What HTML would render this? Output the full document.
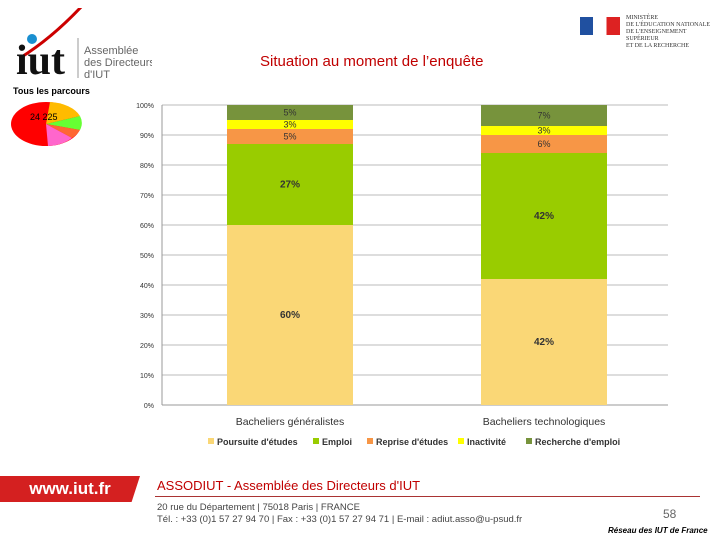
<!DOCTYPE html>
<html><head><meta charset="utf-8"><style>
body{margin:0;width:720px;height:540px;background:#fff;font-family:"Liberation Sans",sans-serif;position:relative;overflow:hidden}
.a{position:absolute}
</style></head><body>
<div class="a" style="left:12px;top:8px;width:140px;height:70px">
<svg width="140" height="70"><path d="M8 50 Q40 30 70 -2" stroke="#c00" stroke-width="3" fill="none"/><circle cx="20" cy="31" r="5" fill="#1a8fd0"/>
<text x="4" y="66" font-family="Liberation Serif" font-size="42" font-weight="bold" fill="#111">iut</text>
<line x1="66" y1="30" x2="66" y2="72" stroke="#999"/>
<text x="72" y="46" font-size="11" fill="#666">Assemblée</text><text x="72" y="58" font-size="11" fill="#666">des Directeurs</text><text x="72" y="70" font-size="11" fill="#666">d'IUT</text></svg></div>
<div class="a" style="left:13px;top:86px;font-size:9px;font-weight:bold">Tous les parcours</div>
<svg class="a" style="left:10px;top:98px" width="72" height="52">
<ellipse cx="36" cy="26" rx="35" ry="22" fill="#f00"/><path d="M36 26 L40 4 A35 22 0 0 1 70 18 Z" fill="#fb0"/><path d="M36 26 L70 18 A35 22 0 0 1 70 32 Z" fill="#6f3"/><path d="M36 26 L70 32 A35 22 0 0 1 62 40 Z" fill="#f63"/><path d="M36 26 L62 40 A35 22 0 0 1 38 48 Z" fill="#f6c"/>
<text x="20" y="22" font-size="9">24 225</text></svg>
<div class="a" style="left:580px;top:15px;width:135px;height:30px">
<div class="a" style="left:0;top:2px;width:40px;height:18px;background:linear-gradient(90deg,#2050a0 33%,#fff 33% 66%,#d22 66%)"></div>
<div class="a" style="left:46px;top:0;font-size:6px;line-height:7px;color:#333;font-family:'Liberation Serif'">MINISTÈRE<br>DE L'ÉDUCATION NATIONALE<br>DE L'ENSEIGNEMENT SUPÉRIEUR<br>ET DE LA RECHERCHE</div></div>
<div class="a" style="left:260px;top:53px;font-size:15px;color:#c00000">Situation au moment de l’enquête</div>
<svg class="a" id="chart" style="left:0;top:0" width="720" height="460"></svg>
<div class="a" style="left:0;top:476px;width:140px;height:26px;background:#d42020;color:#fff;font-weight:bold;font-size:17px;line-height:26px;text-align:center;clip-path:polygon(0 0,100% 0,94% 100%,0 100%)">www.iut.fr</div>
<div class="a" style="left:157px;top:478px;font-size:13px;color:#c00000">ASSODIUT - Assemblée des Directeurs d'IUT</div>
<div class="a" style="left:155px;top:496px;width:545px;height:1px;background:#a33"></div>
<div class="a" style="left:157px;top:502px;font-size:9.5px;color:#444;line-height:12px">20 rue du Département | 75018 Paris | FRANCE<br>Tél. : +33 (0)1 57 27 94 70 | Fax : +33 (0)1 57 27 94 71 | E-mail : adiut.asso@u-psud.fr</div>
<div class="a" style="left:663px;top:507px;font-size:12px;color:#666">58</div>
<div class="a" style="left:608px;top:526px;font-size:8px;font-weight:bold;font-style:italic">Réseau des IUT de France</div>
<script>
const categories=["Bacheliers généralistes","Bacheliers technologiques"];
const seriesNames=["Poursuite d'études","Emploi","Reprise d'études","Inactivité","Recherche d'emploi"];
const poursuite=[60,42];
const emploi=[27,42];
const reprise=[5,6];
const inactivite=[3,3];
const recherche=[5,7];
const ticks=[0,10,20,30,40,50,60,70,80,90,100];
const colors=["#FAD776","#99CC00","#F79646","#FFFF00","#77933C"];
const svg=document.getElementById('chart');const NS="http://www.w3.org/2000/svg";
const y=v=>405-v*3;const bx=i=>227+i*254;const bw=126;
function mk(t,a,txt){const e=document.createElementNS(NS,t);for(const k in a)e.setAttribute(k,a[k]);if(txt!==undefined)e.textContent=txt;svg.appendChild(e);return e;}
ticks.forEach(t=>{const g=mk('line',{x1:162,x2:668,y1:y(t),y2:y(t),stroke:t?'#bbb':'#999','stroke-width':1});


const l=mk('text',{x:154,y:y(t)+3,'text-anchor':'end','font-size':7,fill:'#333'},t+'%');

});
const ax=mk('line',{x1:162,x2:162,y1:105,y2:405,stroke:'#999'});


const series=[poursuite,emploi,reprise,inactivite,recherche];
categories.forEach((c,i)=>{let acc=0;series.forEach((s,j)=>{const v=s[i];
const r=mk('rect',{x:bx(i),y:y(acc+v),width:bw,height:v*3,fill:colors[j]});


const big=v>=10;const t=mk('text',{x:bx(i)+bw/2,y:y(acc+v/2)+3,'text-anchor':'middle','font-size':big?10:9,'font-weight':big?'bold':'normal',fill:'#333'},v+'%');


acc+=v;});
const cl=mk('text',{x:bx(i)+bw/2,y:425,'text-anchor':'middle','font-size':10.5,fill:'#333'},c);

});
let lx=[208,313,367,458,526];
seriesNames.forEach((n,j)=>{const r=mk('rect',{x:lx[j],y:438,width:6,height:6,fill:colors[j]});


const t=mk('text',{x:lx[j]+9,y:445,'font-size':9,'font-weight':'bold',fill:'#333'},n);

});
</script>
</body></html>
